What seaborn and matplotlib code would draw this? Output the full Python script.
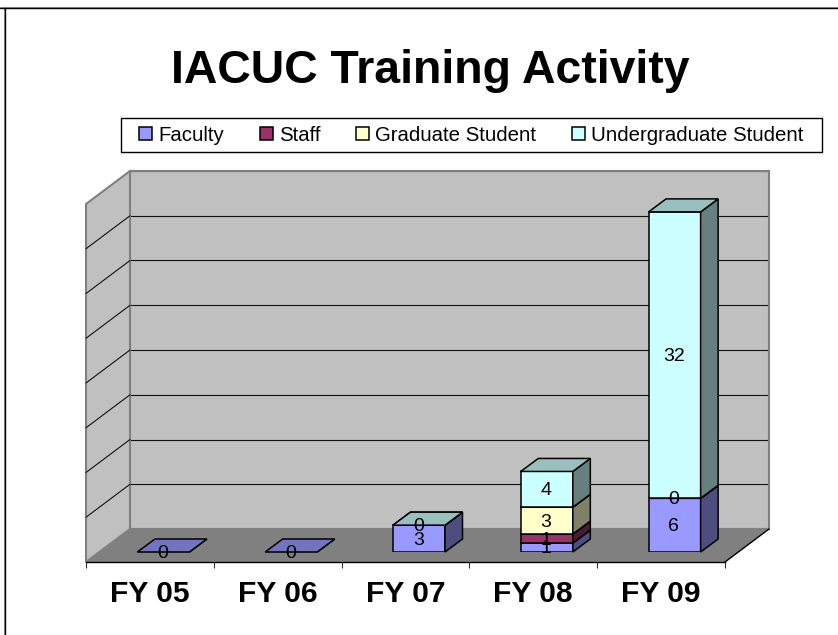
# -*- coding: utf-8 -*-
import matplotlib
matplotlib.use("Agg")
import matplotlib.pyplot as plt
from matplotlib.colors import to_rgb
from matplotlib.lines import Line2D
from matplotlib.patches import Polygon, Patch, Rectangle
import numpy as np
import pandas as pd
import seaborn as sns

#%% dados
anos = ['FY 05', 'FY 06', 'FY 07', 'FY 08', 'FY 09']
faculty = [0, 0, 3, 1, 6]
staff = [None, None, None, 1, None]
graduate = [None, None, None, 3, 0]
undergrad = [None, None, 0, 4, 32]

series = ['Faculty', 'Staff', 'Graduate Student', 'Undergraduate Student']
valores = [faculty, staff, graduate, undergrad]
cores = ['#9999FF', '#993366', '#FFFFCC', '#CCFFFF']
grade = [0, 5, 10, 15, 20, 25, 30, 35, 40]

#%% figura
W, H = 838, 635
sns.set_style('white')
plt.rcParams['font.family'] = ['Liberation Sans', 'DejaVu Sans']
plt.rcParams['text.color'] = 'black'
plt.rcParams['xtick.labelcolor'] = 'black'
fig = plt.figure(figsize=(W / 100, H / 100), dpi=100)


def eixo(x0, x1, y_base, y_topo, zorder):
    # retangulo em pixels da imagem (y para baixo)
    ax = fig.add_axes([x0 / W, (H - y_base) / H, (x1 - x0) / W, (y_base - y_topo) / H], zorder=zorder)
    ax.set_xlim(-0.5, 4.5)
    ax.set_ylim(0, 40)
    return ax


# parede do fundo, plano do chao e plano das barras
ax_fundo = eixo(130, 769, 529, 171, 1)
ax_chao = eixo(86, 725, 562, 204, 2)
ax_barras = eixo(99.5, 738.5, 552, 194, 3)

# escala de pixels para dados
px_x = 5 / 639
px_y = 40 / 358

#%% parede do fundo
ax_fundo.set_facecolor('#C0C0C0')
ax_fundo.set_yticks(grade)
ax_fundo.set_xticks([])
ax_fundo.tick_params(axis='y', length=0, labelleft=False)
ax_fundo.grid(axis='y', color='#111111', linewidth=0.8)
ax_fundo.set_axisbelow(True)
for s in ax_fundo.spines.values():
    s.set_color('#808080')
    s.set_linewidth(1.5)

#%% parede lateral e chao
ax_chao.patch.set_visible(False)
prof_x = 44 * px_x
prof_y = 33 * px_y
parede = Polygon([(-0.5, 0), (-0.5 + prof_x, prof_y), (-0.5 + prof_x, 40 + prof_y), (-0.5, 40)],
                 facecolor='#C0C0C0', edgecolor='#808080', linewidth=1.5, clip_on=False)
ax_chao.add_patch(parede)
chao = Polygon([(-0.5, 0), (4.5, 0), (4.5 + prof_x, prof_y), (-0.5 + prof_x, prof_y)],
               facecolor='#808080', edgecolor='none', clip_on=False)
ax_chao.add_patch(chao)
for g in grade[1:-1]:
    ax_chao.plot([-0.5, -0.5 + prof_x], [g, g + prof_y], color='#111111', linewidth=0.8, clip_on=False)
ax_chao.plot([4.5, 4.5 + prof_x], [0, prof_y], color='black', linewidth=1, clip_on=False)

for s in ['top', 'left', 'right']:
    ax_chao.spines[s].set_visible(False)
ax_chao.spines['bottom'].set_color('black')
ax_chao.spines['bottom'].set_linewidth(1)
ax_chao.set_yticks([])
ax_chao.set_xticks(np.arange(-0.5, 5, 1))
ax_chao.set_xticklabels([])
ax_chao.tick_params(axis='x', which='major', direction='out', length=4.5, width=0.8,
                    color='#333333', bottom=True)
ax_chao.set_xticks(np.arange(5), minor=True)
ax_chao.set_xticklabels(anos, minor=True, fontsize=21.6, fontweight='bold')
ax_chao.tick_params(axis='x', which='minor', length=0, pad=13)

#%% barras empilhadas
ax_barras.patch.set_visible(False)
ax_barras.axis('off')
dx = 17.5 * px_x
dy = 13 * px_y
base = [0.0] * len(anos)
rotulos = []
for nome, vals, cor in zip(series, valores, cores):
    df = pd.DataFrame({'ano': anos, 'valor': vals, 'base': base}).dropna(subset=['valor'])
    n_antes = len(ax_barras.patches)
    sns.barplot(data=df, x='ano', y='valor', order=anos, bottom=df['base'].values, color=cor,
                saturation=1, width=0.407, edgecolor='black', linewidth=1.1, errorbar=None,
                ax=ax_barras, zorder=3)
    rgb = np.array(to_rgb(cor))
    for bar, v in zip(list(ax_barras.patches[n_antes:]), df['valor']):
        x0, x1 = bar.get_x(), bar.get_x() + bar.get_width()
        y0, y1 = bar.get_y(), bar.get_y() + bar.get_height()
        lado = Polygon([(x1, y0), (x1 + dx, y0 + dy), (x1 + dx, y1 + dy), (x1, y1)],
                       facecolor=rgb * 0.5, edgecolor='black', linewidth=1.1, clip_on=False, zorder=3)
        topo = Polygon([(x0, y1), (x1, y1), (x1 + dx, y1 + dy), (x0 + dx, y1 + dy)],
                       facecolor=rgb * 0.75, edgecolor='black', linewidth=1.1, clip_on=False, zorder=3)
        ax_barras.add_patch(lado)
        ax_barras.add_patch(topo)
        rotulos.append(((x0 + x1) / 2, (y0 + y1) / 2, v))
    for i, v in zip(df.index, df['valor']):
        base[i] += v

ax_barras.set_xlim(-0.5, 4.5)
ax_barras.set_ylim(0, 40)
for x, y, v in rotulos:
    ax_barras.annotate(f'{int(v)}', (x, y), xytext=(-0.5, 0.4), textcoords='offset points', ha='center',
                       va='center_baseline', fontsize=14, color='black', annotation_clip=False, zorder=6)

#%% titulo, legenda e moldura
fig.text(430 / W, 1 - 71 / H, 'IACUC Training Activity', ha='center', va='center',
         fontsize=33.4, fontweight='bold', color='black')

# caixa da legenda a parte: mais folga dos lados do que em cima
fig.add_artist(Rectangle((121 / W, 1 - 152 / H), 701 / W, 34 / H, transform=fig.transFigure,
                         facecolor='white', edgecolor='black', linewidth=1))
handles = [Patch(facecolor=c, edgecolor='black', linewidth=1.1, label=n) for n, c in zip(series, cores)]
leg = fig.legend(handles=handles, loc='center', bbox_to_anchor=(471.5 / W, 1 - 135 / H), ncol=4,
                 fontsize=14.7, frameon=False,
                 handlelength=0.64, handleheight=0.64, handletextpad=0.3, columnspacing=1.75,
                 borderpad=0.45, borderaxespad=0)
leg.set_zorder(10)

fig.add_artist(Line2D([0, 1], [1 - 7 / H, 1 - 7 / H], color='#999999', linewidth=0.8))
fig.add_artist(Line2D([4 / W, 4 / W], [0, 1 - 7 / H], color='#999999', linewidth=0.8))
fig.add_artist(Line2D([0, 1], [1 - 8 / H, 1 - 8 / H], color='black', linewidth=1))
fig.add_artist(Line2D([5 / W, 5 / W], [0, 1 - 8 / H], color='black', linewidth=1))

plt.savefig('out.png', dpi=100)
